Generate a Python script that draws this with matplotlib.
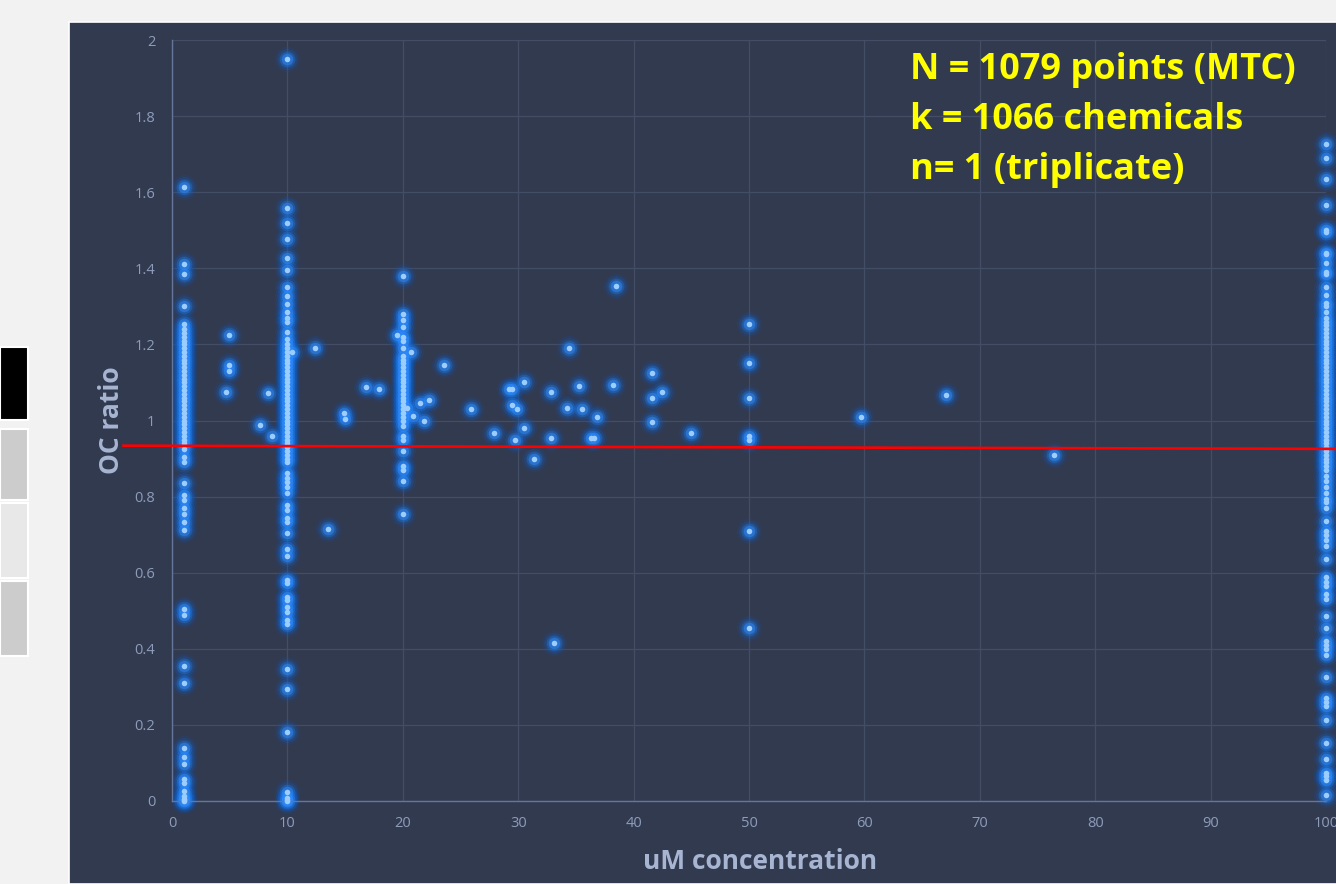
import numpy as np
import matplotlib.pyplot as plt
from matplotlib.patches import Rectangle

# ---------------------------------------------------------------------------
# Dados (OC ratio x concentracao uM)
# ---------------------------------------------------------------------------

# coluna 1 uM
c1_y = [1.613, 1.41, 1.384, 1.30, 1.253, 1.24, 1.23,
        1.22, 1.21, 1.20, 1.19, 1.18, 1.17, 1.16, 1.15, 1.14, 1.13, 1.12,
        1.11, 1.10, 1.09, 1.08, 1.07, 1.06, 1.05, 1.04, 1.03, 1.02, 1.01,
        1.00, 0.99, 0.98, 0.97, 0.96, 0.95, 0.94,
        0.926, 0.905, 0.892, 0.837, 0.805, 0.792, 0.771, 0.753, 0.732, 0.711,
        0.505, 0.49, 0.355, 0.31, 0.14, 0.116, 0.097, 0.058, 0.047, 0.026,
        0.012, 0.006, 0.003, 0.0]

# coluna 10 uM
c10_y = [1.95, 1.558, 1.52, 1.476, 1.426, 1.395, 1.35, 1.326, 1.305, 1.284,
         1.27, 1.258, 1.232, 1.215,
         1.20, 1.19, 1.18, 1.17, 1.16, 1.15, 1.14, 1.13, 1.12, 1.11, 1.10,
         1.09, 1.08, 1.07, 1.06, 1.05, 1.04, 1.03, 1.02, 1.01, 1.00, 0.99,
         0.98, 0.97, 0.96, 0.95, 0.94, 0.93, 0.92, 0.91, 0.90,
         0.89, 0.863, 0.85, 0.838, 0.826, 0.81, 0.779, 0.766, 0.745, 0.732,
         0.705, 0.663, 0.645, 0.582, 0.574, 0.537, 0.529, 0.511, 0.497,
         0.476, 0.466, 0.347, 0.295, 0.182, 0.024, 0.008, 0.003, 0.0]

# coluna 20 uM
c20_y = [1.38, 1.279, 1.265, 1.245, 1.22, 1.21, 1.19,
         1.17, 1.16, 1.15, 1.14, 1.13, 1.12, 1.11, 1.10, 1.09, 1.08, 1.07,
         1.06, 1.05, 1.04, 1.03, 1.02, 1.01, 1.00,
         0.985, 0.96, 0.95, 0.92, 0.88, 0.87, 0.84, 0.755]

# coluna 50 uM
c50_y = [1.253, 1.15, 1.06, 0.96, 0.95, 0.71, 0.455]

# coluna 100 uM
c100_y = [1.726, 1.69, 1.636, 1.566, 1.50, 1.495, 1.44, 1.437, 1.413, 1.39,
          1.384, 1.35, 1.33, 1.31, 1.30, 1.285, 1.27,
          1.26, 1.25, 1.24, 1.23, 1.22, 1.21, 1.20, 1.19, 1.18, 1.17, 1.16,
          1.15, 1.14, 1.13, 1.12, 1.11, 1.10, 1.09, 1.08, 1.07, 1.06, 1.05,
          1.04, 1.03, 1.02, 1.01, 1.00, 0.99, 0.98, 0.97, 0.96, 0.95, 0.94,
          0.93, 0.92, 0.91, 0.90, 0.89, 0.88,
          0.87, 0.855, 0.84, 0.825, 0.81, 0.795, 0.785, 0.77, 0.737, 0.71,
          0.70, 0.685, 0.67, 0.635, 0.59, 0.575, 0.565, 0.545, 0.53, 0.485,
          0.455, 0.42, 0.41, 0.40, 0.385, 0.327, 0.27, 0.26, 0.25, 0.213,
          0.153, 0.11, 0.074, 0.065, 0.055, 0.016]

# pontos isolados (concentracao, OC ratio)
solto_x = [4.96, 4.96, 4.96, 4.7, 7.6, 8.35, 8.7, 10.4, 12.4, 13.5, 14.9,
           15.0, 16.8, 17.9, 19.5, 20.4, 20.7, 20.9, 21.5, 21.8, 22.3, 23.6,
           25.9, 27.9, 29.2, 29.5, 29.5, 29.9, 29.7, 30.5, 30.5, 31.4, 32.8,
           32.8, 33.1, 34.2, 34.4, 35.3, 35.5, 36.3, 36.6, 36.8, 38.2, 38.5,
           41.6, 41.6, 41.6, 42.5, 45.0, 59.7, 67.1, 76.4]
solto_y = [1.224, 1.147, 1.13, 1.074, 0.987, 1.071, 0.958, 1.18, 1.19, 0.716,
           1.021, 1.003, 1.087, 1.082, 1.224, 1.034, 1.18, 1.013, 1.045, 1.0,
           1.053, 1.145, 1.03, 0.966, 1.084, 1.082, 1.04, 1.03, 0.95, 1.10,
           0.98, 0.90, 1.076, 0.955, 0.416, 1.034, 1.19, 1.09, 1.03, 0.955,
           0.953, 1.01, 1.092, 1.353, 1.124, 1.06, 0.997, 1.074, 0.968, 1.008,
           1.066, 0.91]

# linha de tendencia (vermelha)
tend_a = 0.9335
tend_b = -0.00008
tend_x = [-4.2, 101.5]

texto = ["N = 1079 points (MTC)", "k = 1066 chemicals", "n= 1 (triplicate)"]

# ---------------------------------------------------------------------------
# Montagem dos pontos
# ---------------------------------------------------------------------------
xs = ([1] * len(c1_y) + [10] * len(c10_y) + [20] * len(c20_y)
      + [50] * len(c50_y) + [100] * len(c100_y) + solto_x)
ys = c1_y + c10_y + c20_y + c50_y + c100_y + solto_y

FUNDO = "#f2f2f2"
PAINEL = "#323a50"
GRADE = "#434d66"
EIXO = "#66769a"
TEXTO_EIXO = "#8e9cba"

fig = plt.figure(figsize=(13.36, 8.84), dpi=100)
fig.patch.set_facecolor(FUNDO)

# painel escuro do slide
fig.patches.append(Rectangle((69 / 1336, 0), 1, 1 - 22 / 884, transform=fig.transFigure,
                             facecolor=PAINEL, edgecolor="#ffffff", linewidth=1.2, zorder=0))

# caixinhas do lado esquerdo
for y0, y1, cor in [(347, 420, "#000000"), (429, 500, "#cccccc"),
                    (503, 578, "#e8e8e8"), (581, 656, "#cccccc")]:
    fig.patches.append(Rectangle((0, 1 - y1 / 884), 28 / 1336, (y1 - y0) / 884,
                                 transform=fig.transFigure, facecolor=cor,
                                 edgecolor="#ffffff", linewidth=1.5, zorder=0))

ax = fig.add_axes([172 / 1336, 1 - 801 / 884, 1154 / 1336, 761 / 884])
ax.set_zorder(2)
ax.set_facecolor("none")
ax.set_xlim(0, 100)
ax.set_ylim(0, 2)
ax.set_xticks(np.arange(0, 101, 10))
ax.set_yticks(np.arange(0, 2.01, 0.2))
ax.set_yticklabels(["0", "0.2", "0.4", "0.6", "0.8", "1", "1.2", "1.4", "1.6", "1.8", "2"])
ax.grid(True, color=GRADE, linewidth=0.9)
ax.set_axisbelow(True)
for lado in ["top", "right"]:
    ax.spines[lado].set_visible(False)
for lado in ["left", "bottom"]:
    ax.spines[lado].set_color(EIXO)
    ax.spines[lado].set_linewidth(1.0)
ax.tick_params(length=0, colors=TEXTO_EIXO, labelsize=10.5)
ax.tick_params(axis="y", pad=12)
ax.tick_params(axis="x", pad=11)
for lbl in ax.get_xticklabels() + ax.get_yticklabels():
    lbl.set_fontfamily("Open Sans")

# pontos com efeito de brilho (camadas cada vez menores)
for tam, cor, alfa, z in [(330, "#0f4fa8", 0.16, 2.0), (220, "#1463c8", 0.22, 2.1),
                          (130, "#1f7ae6", 0.36, 2.2), (70, "#2f8cff", 0.5, 2.3)]:
    ax.scatter(xs, ys, s=tam, color=cor, alpha=alfa, linewidths=0, clip_on=False, zorder=z)
ax.scatter(xs, ys, s=16, color="#9ccdff", linewidths=0, clip_on=False, zorder=4)

# linha de tendencia
tend_y = [tend_a + tend_b * x for x in tend_x]
ax.plot(tend_x, tend_y, color="#ff0000", linewidth=1.9, clip_on=False, zorder=5)

ax.set_xlabel("uM concentration", fontsize=19, fontweight="bold", color="#a7b5d2",
              family="Open Sans")
ax.xaxis.set_label_coords((760 - 172) / 1154, -0.062)
ax.set_ylabel("OC ratio", fontsize=19, fontweight="bold", color="#a7b5d2",
              family="Open Sans", labelpad=7)

for i, linha in enumerate(texto):
    fig.text(910 / 1336, 1 - (70 + 50 * i) / 884, linha, fontsize=26, fontweight="bold",
             color="#ffff00", family="Open Sans", ha="left", va="center", zorder=6)

fig.savefig("out.png", dpi=100, facecolor=FUNDO)
